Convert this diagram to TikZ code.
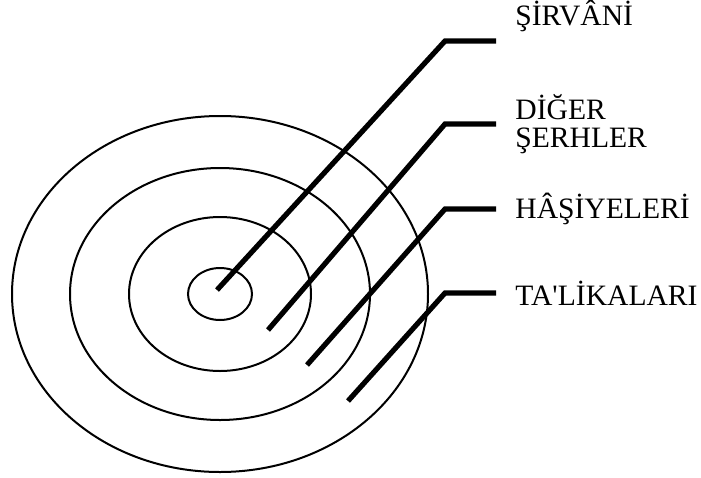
\documentclass[tikz,border=0pt]{standalone}
\usepackage{fontspec}
\setmainfont{Liberation Serif}
\usetikzlibrary{positioning}

\begin{document}
\begin{tikzpicture}[
    x=0.5pt, y=-0.5pt, % one unit is one pixel of the layout, y runs down
    ring/.style={line width=1pt},
    pointer/.style={line width=2.6pt, line join=miter},
    every node/.style={font=\fontsize{14.8}{14}\selectfont, inner sep=0pt}
]
    \useasboundingbox (0,0) rectangle (701,477);

    % The rings
    \coordinate (c) at (220,294);
    \draw[ring] (c) ellipse [x radius=208, y radius=178];
    \draw[ring] (c) ellipse [x radius=150, y radius=126];
    \draw[ring] (c) ellipse [x radius=91, y radius=77];
    \draw[ring] (c) ellipse [x radius=32, y radius=26];

    % Pointer ends and bends
    \coordinate (s1) at (217,290); \coordinate (k1) at (445,41);  \coordinate (e1) at (496,41);
    \coordinate (s2) at (268,330); \coordinate (k2) at (445,124); \coordinate (e2) at (496,124);
    \coordinate (s3) at (307,365); \coordinate (k3) at (445,209); \coordinate (e3) at (496,209);
    \coordinate (s4) at (348,401); \coordinate (k4) at (445,293); \coordinate (e4) at (496,293);

    % Place the labels
    \node (sirvani) [anchor=base west] at (515,25) {ŞİRVÂNİ};
    \node (diger) [right=9.5pt of e2, align=left] {DİĞER\\ŞERHLER};
    \node (hasiye) [right=9.5pt of e3] {HÂŞİYELERİ};
    \node (talika) [right=9.5pt of e4] {TA\textquotesingle LİKALARI};

    % Draw the pointers
    \draw[pointer] (s1) -- (k1) -- (e1);
    \draw[pointer] (s2) -- (k2) -- (e2);
    \draw[pointer] (s3) -- (k3) -- (e3);
    \draw[pointer] (s4) -- (k4) -- (e4);
\end{tikzpicture}
\end{document}
